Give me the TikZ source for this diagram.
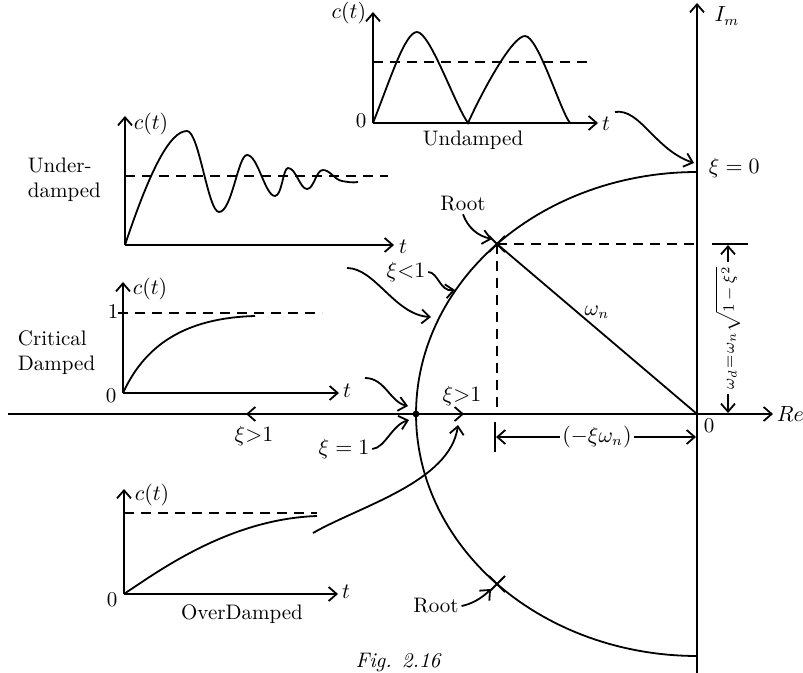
\documentclass[tikz,border=0pt]{standalone}
\usetikzlibrary{arrows.meta,shapes.misc}
\begin{document}
\begin{tikzpicture}[x=0.5pt,y=-0.5pt,line width=0.9pt,
  txt/.style={font=\fontsize{10.5}{12.5}\selectfont, inner sep=1pt},
  every node/.style={txt},
  arr/.style={-{Straight Barb[length=4pt,width=7pt,line width=0.9pt]}},
  dsh/.style={dash pattern=on 5pt off 3.5pt},
  rootmark/.style={draw, cross out, minimum size=7pt, inner sep=0pt, line width=1pt}]
\useasboundingbox (0,0) rectangle (803,673);
\clip (0,0) rectangle (803,673);

% ---------- s-plane ----------
\coordinate (O) at (697,414);
\coordinate (ReL) at (8,414);
\coordinate (ReR) at (773,414);
\coordinate (ImB) at (697,690);
\coordinate (ImT) at (697,3);
\draw[arr] (ReL) -- (ReR);
\draw[arr] (ImB) -- (ImT);
\node[anchor=west, inner sep=0pt] (relbl) at (776,414) {$Re$};
\node (imlbl) at (727,16) {$I_m$};
\node (olbl) at (709,426) {0};

% root locus (semi-ellipse)
\draw plot[domain=90:270,samples=120,variable=\t] ({697+281*cos(\t)},{414-242*sin(\t)});

\coordinate (root1) at (497,244);
\coordinate (root2) at (497,584);
\coordinate (z1) at (416,414);
\fill (z1) circle[radius=1.7pt];
\node[rootmark] (rm1) at (root1) {};
\node[rootmark] (rm2) at (root2) {};

% dashed projections and omega_n
\coordinate (improj) at (697,244);
\coordinate (reproj) at (497,414);
\draw[dsh] (root1) -- (improj);
\draw[dsh] (root1) -- (reproj);
\draw (root1) -- (O);
\node (wn) at (597,312) {$\omega_n$};

% dimension -xi omega_n
\coordinate (tkA) at (495,422);
\coordinate (tkB) at (495,452);
\draw (tkA) -- (tkB);
\coordinate (dL) at (496,437);
\coordinate (dR) at (696,437);
\node (xw) at (597,437) {$(-\xi\omega_n)$};
\draw[arr] (xw.west) -- (dL);
\draw[arr] (xw.east) -- (dR);

% dimension omega_d
\coordinate (barL) at (712,244);
\coordinate (barR) at (748,244);
\draw (barL) -- (barR);
\coordinate (wdT) at (728,245);
\coordinate (wdB) at (728,413);
\node[rotate=90, font=\fontsize{8.5}{10}\selectfont, inner sep=2pt] (wd) at (728,328) {$\omega_d\!=\!\omega_n\sqrt{1-\xi^2}$};
\draw[arr] (wd.east) -- (wdT);
\draw[arr] (wd.west) -- (wdB);

% labels and pointer arrows
\node[anchor=west] (x0) at (706,168) {$\xi = 0$};
\coordinate (ua) at (615,112);
\coordinate (ub) at (694,163);
\draw[arr] (ua) .. controls (640,108) and (655,150) .. (ub);

\node (r1lbl) at (463,204) {Root};
\coordinate (r1t) at (492,239);
\draw[arr] (r1lbl.south) .. controls (468,228) and (478,236) .. (r1t);

\node (xl1) at (406,272) {$\xi{<}1$};
\coordinate (xl1t) at (455,290);
\draw[arr] (xl1.east) .. controls (438,272) and (440,292) .. (xl1t);

\coordinate (uda) at (347,268);
\coordinate (udb) at (431,317);
\draw[arr] (uda) .. controls (375,268) and (395,315) .. (udb);

\coordinate (cda) at (365,378);
\coordinate (cdb) at (408,406);
\draw[arr] (cda) .. controls (385,378) and (390,402) .. (cdb);

\node (x1) at (344,449) {$\xi = 1$};
\coordinate (x1t) at (409,420);
\draw[arr] (x1.east) .. controls (385,448) and (392,425) .. (x1t);

\node (xg1a) at (254,436) {$\xi{>}1$};
\node (xg1b) at (462,396) {$\xi{>}1$};
\coordinate (la) at (290,414);
\coordinate (lb) at (246,414);
\draw[arr] (la) -- (lb);
\coordinate (ra) at (430,414);
\coordinate (rb) at (464,414);
\draw[arr] (ra) -- (rb);

\coordinate (oda) at (313,533);
\coordinate (odb) at (458,425);
\draw[arr] (oda) .. controls (360,506) and (450,482) .. (odb);

\node (r2lbl) at (436,606) {Root};
\coordinate (r2t) at (491,589);
\draw[arr] (r2lbl.east) .. controls (472,604) and (482,598) .. (r2t);

\node[anchor=base, font=\fontsize{10.5}{12.5}\selectfont\itshape] (cap) at (398,667) {Fig. 2.16};

% ---------- Undamped ----------
\coordinate (uo) at (373,123);
\coordinate (uy) at (373,12);
\coordinate (ux) at (598,123);
\draw[arr] (uo) -- (uy);
\draw[arr] (uo) -- (ux);
\node[anchor=east] (uct) at (369,13) {$c(t)$};
\node (ut) at (606,124) {$t$};
\node (u0) at (361,121) {0};
\node (ulbl) at (473,140) {Undamped};
\coordinate (uda1) at (373,62);
\coordinate (uda2) at (592,62);
\draw[dsh] (uda1) -- (uda2);
\draw (uo) .. controls (390,80) and (405,32) .. (417,32)
  .. controls (430,32) and (455,105) .. (468,123)
  .. controls (482,92) and (512,36) .. (525,36)
  .. controls (538,36) and (560,110) .. (570,123);

% ---------- Under-damped ----------
\coordinate (udo) at (125,245);
\coordinate (udy) at (125,116);
\coordinate (udx) at (394,245);
\draw[arr] (udo) -- (udy);
\draw[arr] (udo) -- (udx);
\node (udct) at (151,124) {$c(t)$};
\node (udt) at (403,247) {$t$};
\node[align=left, anchor=west] (udlbl) at (25,180) {Under-\\damped};
\coordinate (udd1) at (125,176);
\coordinate (udd2) at (388,176);
\draw[dsh] (udd1) -- (udd2);
\draw (udo) .. controls (150,170) and (170,131) .. (187,131)
  .. controls (199,131) and (208,212) .. (219,212)
  .. controls (232,212) and (238,155) .. (247,155)
  .. controls (258,155) and (265,196) .. (275,196)
  .. controls (282,196) and (283,168) .. (288,168)
  .. controls (296,168) and (300,189) .. (307,189)
  .. controls (314,189) and (316,170) .. (323,170)
  .. controls (330,170) and (335,180) .. (342,181)
  .. controls (348,182) and (352,183) .. (358,182);

% ---------- Critical damped ----------
\coordinate (co) at (123,393);
\coordinate (cy) at (123,282);
\coordinate (cx) at (339,393);
\draw[arr] (co) -- (cy);
\draw[arr] (co) -- (cx);
\node (cct) at (150,289) {$c(t)$};
\node (ct) at (347,391) {$t$};
\node (c0) at (111,396) {0};
\node (c1) at (113,312) {1};
\coordinate (cd1) at (118,313);
\coordinate (cd2) at (322,313);
\draw[dsh] (cd1) -- (cd2);
\draw (co) .. controls (145,345) and (185,318) .. (255,316);
\node[align=left, anchor=west] (clbl) at (15,353) {Critical\\Damped};

% ---------- Overdamped ----------
\coordinate (oo) at (124,594);
\coordinate (oy) at (124,489);
\coordinate (ox) at (338,594);
\draw[arr] (oo) -- (oy);
\draw[arr] (oo) -- (ox);
\node (oct) at (152,495) {$c(t)$};
\node (ot) at (346,592) {$t$};
\node (o0) at (112,600) {0};
\coordinate (od1) at (124,513);
\coordinate (od2) at (317,513);
\draw[dsh] (od1) -- (od2);
\draw (oo) .. controls (160,570) and (230,519) .. (317,516);
\node (olbl2) at (242,614) {OverDamped};
\end{tikzpicture}
\end{document}
